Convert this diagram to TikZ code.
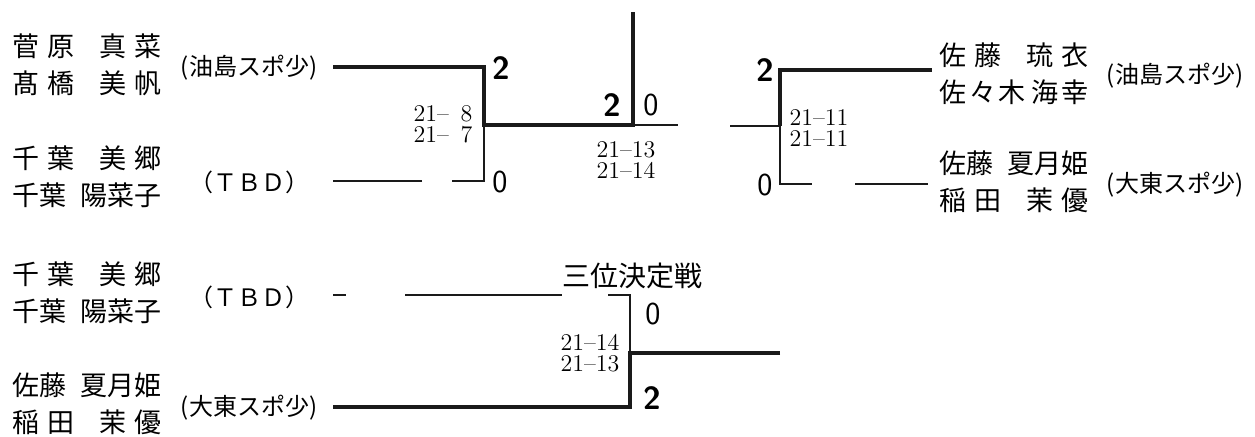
\documentclass[tikz,border=0pt]{standalone}
\usepackage{fontspec}
\usepackage{tikz}
\newfontfamily\jpfont{Noto Sans CJK JP}
\definecolor{inkish}{HTML}{1A1A1A}
\newcommand{\nmfour}[4]{\makebox[75pt][s]{#1\hfil#2\hfil\hfil\hfil#3\hfil#4}}
\newcommand{\nmfive}[5]{\makebox[75pt][s]{#1#2\hfil#3#4#5}}
\newcommand{\nmthree}[5]{\makebox[75pt][s]{#1\hfil#2\hfil#3\hfil\hfil#4\hfil#5}}

\begin{document}
\begin{tikzpicture}[x=0.5pt,y=-0.5pt,
        win/.style={line width=2.2pt,draw=inkish},
        lose/.style={line width=0.8pt,draw=inkish},
        pair/.style={font=\jpfont\fontsize{13.5}{18.5}\selectfont,align=left,inner sep=0pt},
        club/.style={font=\jpfont\fontsize{12}{14}\selectfont,inner sep=0pt},
        wpts/.style={font=\sffamily\bfseries\fontsize{16}{16}\selectfont,inner sep=0pt},
        lpts/.style={font=\sffamily\fontsize{16}{16}\selectfont,inner sep=0pt},
        games/.style={font=\fontsize{12}{10.5}\selectfont,align=center,inner sep=0pt}]
        \useasboundingbox (0,0) rectangle (1255,437);
        \node[pair] (p1) at (87,65) {\nmfour{菅}{原}{真}{菜}\\\nmfour{髙}{橋}{美}{帆}};
        \node[club] (c1) at (249,68) {(油島スポ少)};
        \node[pair] (p2) at (87,177) {\nmfour{千}{葉}{美}{郷}\\\nmfive{千}{葉}{陽}{菜}{子}};
        \node[club] (c2) at (249,182) {（ＴＢＤ）};
        \node[pair] (p3) at (87,293) {\nmfour{千}{葉}{美}{郷}\\\nmfive{千}{葉}{陽}{菜}{子}};
        \node[club] (c3) at (249,297) {（ＴＢＤ）};
        \node[pair] (p4) at (87,404) {\nmfive{佐}{藤}{夏}{月}{姫}\\\nmfour{稲}{田}{茉}{優}};
        \node[club] (c4) at (249,408) {(大東スポ少)};
        \node[pair] (p5) at (1014,74) {\nmfour{佐}{藤}{琉}{衣}\\\nmthree{佐}{々}{木}{海}{幸}};
        \node[club] (c5) at (1175,76) {(油島スポ少)};
        \node[pair] (p6) at (1014,182) {\nmfive{佐}{藤}{夏}{月}{姫}\\\nmfour{稲}{田}{茉}{優}};
        \node[club] (c6) at (1175,185) {(大東スポ少)};

        \coordinate (a1) at (333,67);
        \coordinate (a2) at (484,67);
        \coordinate (a3) at (484,125);
        \coordinate (a4) at (484,181);
        \coordinate (a5) at (452,181);
        \coordinate (a6) at (422,181);
        \coordinate (a7) at (333,181);
        \coordinate (f1) at (633,125);
        \coordinate (f2) at (633,12);
        \coordinate (f3) at (678,125);
        \coordinate (b0) at (730,126);
        \coordinate (b1) at (780,126);
        \coordinate (b2) at (780,70);
        \coordinate (b3) at (932,70);
        \coordinate (b4) at (780,184);
        \coordinate (b5) at (812,184);
        \coordinate (b6) at (855,184);
        \coordinate (b7) at (928,184);
        \coordinate (t1) at (333,295);
        \coordinate (t2) at (346,295);
        \coordinate (t3) at (405,295);
        \coordinate (t4) at (562,295);
        \coordinate (t5) at (608,295);
        \coordinate (t6) at (630,295);
        \coordinate (t7) at (630,353);
        \coordinate (t8) at (780,353);
        \coordinate (t9) at (630,407);
        \coordinate (t10) at (333,407);

        \draw[win] (a1) -- (a2) -- (a3) -- (f1) -- (f2);
        \draw[lose] (a3) -- (a4) -- (a5);
        \draw[lose] (a6) -- (a7);
        \draw[lose] (f1) -- (f3);
        \draw[lose] (b0) -- (b1) -- (b4) -- (b5);
        \draw[lose] (b6) -- (b7);
        \draw[win] (b1) -- (b2) -- (b3);
        \draw[lose] (t1) -- (t2);
        \draw[lose] (t3) -- (t4);
        \draw[lose] (t5) -- (t6) -- (t7);
        \draw[win] (t8) -- (t7) -- (t9) -- (t10);

        \node[wpts] (s1) at (501,68) {2};
        \node[lpts] (s2) at (500,182) {0};
        \node[games] (g1) at (443,124) {21--\hphantom{0}8\\21--\hphantom{0}7};
        \node[wpts] (s3) at (612,105) {2};
        \node[lpts] (s4) at (651,105) {0};
        \node[games] (g2) at (626,160) {21--13\\21--14};
        \node[wpts] (s5) at (765,70) {2};
        \node[lpts] (s6) at (765,185) {0};
        \node[games] (g3) at (819,128) {21--11\\21--11};
        \node[pair,font=\jpfont\fontsize{14}{16}\selectfont] (tt) at (632,276) {三位決定戦};
        \node[lpts] (s7) at (653,314) {0};
        \node[games] (g4) at (590,353) {21--14\\21--13};
        \node[wpts] (s8) at (652,398) {2};
    \end{tikzpicture}
\end{document}
